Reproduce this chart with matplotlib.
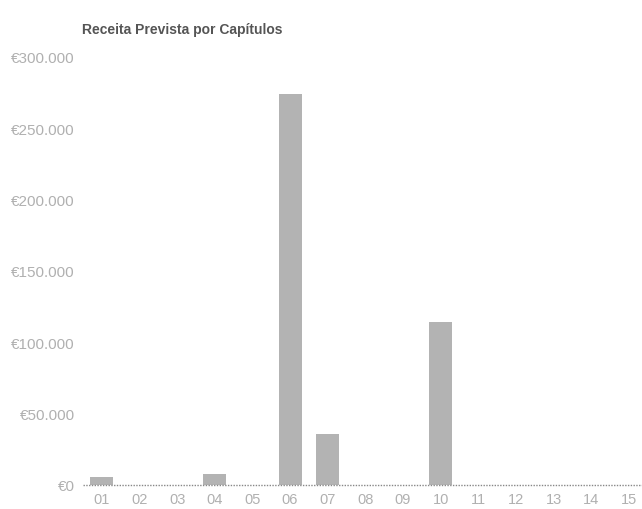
import matplotlib.pyplot as plt
from matplotlib.ticker import FuncFormatter

plt.rcParams["font.family"] = ["Liberation Sans", "DejaVu Sans"]

capitulos = ["01", "02", "03", "04", "05", "06", "07", "08", "09", "10",
             "11", "12", "13", "14", "15"]
receita = [5600, 0, 0, 7900, 0, 274000, 35800, 0, 0, 114600,
           0, 0, 0, 0, 0]
y_ticks = [0, 50000, 100000, 150000, 200000, 250000, 300000]


def euro(v, _pos=None):
    return "€" + f"{int(v):,}".replace(",", ".")


fig = plt.figure(figsize=(6.42, 5.10), dpi=100)
ax = fig.add_axes([83 / 642, 24 / 510, 559 / 642, 428 / 510])

x = list(range(len(capitulos)))
ax.bar(x, receita, width=0.61, color="#b3b3b3", zorder=2)

ax.set_xlim(-0.5, 14.35)
ax.set_ylim(0, 300000)
ax.set_xticks(x)
ax.set_xticklabels(capitulos)
ax.set_yticks(y_ticks)
ax.yaxis.set_major_formatter(FuncFormatter(euro))

for side in ["top", "right", "left", "bottom"]:
    ax.spines[side].set_visible(False)
ax.axhline(0, color="#888888", linestyle=(0, (1, 1)), linewidth=1.0,
           zorder=3, clip_on=False)

ax.tick_params(axis="both", length=0, colors="#b0b0b0")
ax.tick_params(axis="y", labelsize=11, pad=6)
ax.tick_params(axis="x", labelsize=10.5, pad=5)

fig.text(82 / 642, 1 - 30 / 510, "Receita Prevista por Capítulos",
         fontsize=10, fontweight="bold", color="#555555", va="center", ha="left")

fig.savefig("out.png", dpi=100)
